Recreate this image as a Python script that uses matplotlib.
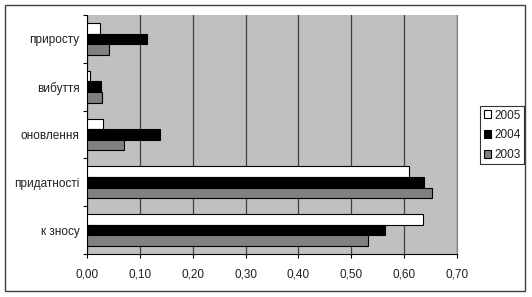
import numpy as np
import matplotlib.pyplot as plt
from matplotlib.patches import Rectangle

plt.rcParams['font.family'] = ['Liberation Sans', 'DejaVu Sans']

# категорії знизу вгору (як у barh)
categories = ["к зносу", "придатності", "оновлення", "вибуття", "приросту"]
years = ["2005", "2004", "2003"]
v2005 = [0.635, 0.609, 0.031, 0.006, 0.025]
v2004 = [0.563, 0.638, 0.139, 0.026, 0.114]
v2003 = [0.532, 0.652, 0.070, 0.029, 0.042]
x_ticks = [0.0, 0.1, 0.2, 0.3, 0.4, 0.5, 0.6, 0.7]

fig = plt.figure(figsize=(5.32, 2.97), dpi=100)
ax = fig.add_axes([87 / 532, 1 - 254 / 297, 370 / 532, 239 / 297])
ax.set_facecolor("#c0c0c0")

# рамка навколо всієї діаграми
fig.patches.append(Rectangle((5 / 532, 6 / 297), 520 / 532, 286 / 297,
                             transform=fig.transFigure, fill=False,
                             edgecolor="#404040", linewidth=1.0))

y = np.arange(len(categories))
h = 2 / 9
colors = ["white", "black", "#808080"]
for i, (vals, col) in enumerate(zip([v2005, v2004, v2003], colors)):
    ax.barh(y + h - i * h, vals, height=h, color=col, edgecolor="black",
            linewidth=0.8, label=years[i], zorder=3)

ax.set_xlim(0, 0.7)
ax.set_ylim(-0.5, len(categories) - 0.5)
ax.set_xticks(x_ticks)
ax.set_xticklabels([f"{t:.2f}".replace(".", ",") for t in x_ticks],
                   fontsize=8.5, color="#202020")
ax.set_yticks(y)
ax.set_yticklabels(categories, fontsize=8.5, color="#202020")
ax.set_yticks(np.arange(-0.5, len(categories), 1), minor=True)
ax.tick_params(axis="y", which="major", length=0, pad=5.5)
ax.tick_params(axis="y", which="minor", length=3, width=0.8)
ax.tick_params(axis="x", length=3, width=0.8, pad=7.5)
ax.xaxis.grid(True, color="#404040", linewidth=0.9, zorder=1)
ax.set_axisbelow(True)
ax.spines["top"].set_visible(False)
ax.spines["right"].set_color("#808080")
ax.spines["left"].set_linewidth(0.8)
ax.spines["bottom"].set_linewidth(0.8)

leg = fig.legend(loc="upper left", bbox_to_anchor=(480 / 532, 1 - 106 / 297),
                 fontsize=8.5, frameon=True, fancybox=False, edgecolor="black",
                 handlelength=0.65, handleheight=0.65, handletextpad=0.25,
                 borderpad=0.3, labelspacing=0.65, borderaxespad=0)
leg.get_frame().set_linewidth(0.8)
for t in leg.get_texts():
    t.set_color("#202020")

fig.savefig("out.png", dpi=100)
